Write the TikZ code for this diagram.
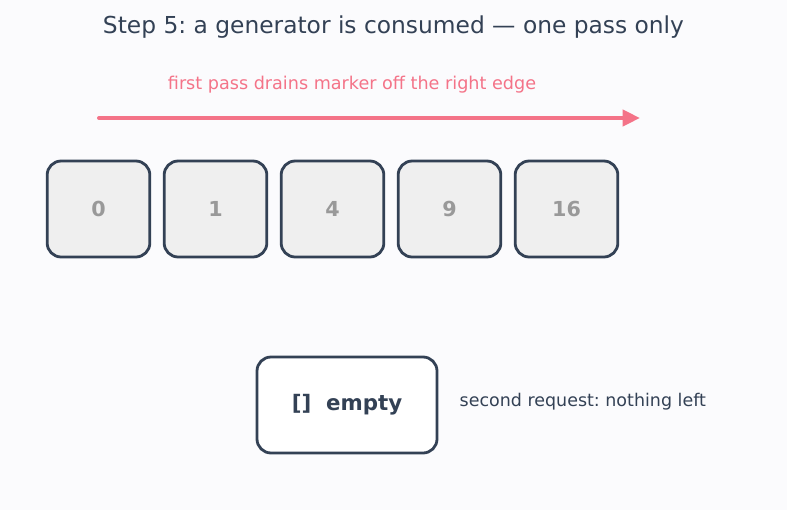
\documentclass[tikz,border=0pt]{standalone}
\usepackage{fontspec}
\setmainfont{DejaVu Sans}
\usepackage{xcolor}
\usetikzlibrary{positioning}
\usetikzlibrary{arrows.meta}
\definecolor{slate}{HTML}{334155}
\definecolor{pinkred}{HTML}{F47388}
\definecolor{cellgray}{HTML}{EFEFEF}
\definecolor{digitgray}{HTML}{999999}
\definecolor{bgcol}{HTML}{FBFBFD}
\frenchspacing
\tikzset{
  cell/.style={draw=slate, line width=2.1pt, rounded corners=10.5pt, fill=cellgray,
    minimum width=77pt, minimum height=72pt, inner sep=0pt,
    font=\fontsize{15.5}{18}\selectfont\bfseries, text=digitgray},
  emptybox/.style={draw=slate, line width=2.1pt, rounded corners=10.5pt, fill=white,
    minimum width=135pt, minimum height=72pt, inner sep=0pt,
    font=\fontsize{16}{19}\selectfont\bfseries, text=slate}
}

\begin{document}
\begin{tikzpicture}[x=0.75pt, y=-0.75pt]
  \fill[bgcol] (0,0) rectangle (787,510);
  \useasboundingbox (0,0) rectangle (787,510);
  \node[font=\fontsize{17.5}{20}\selectfont, text=slate] (title) at (393.5,27) {Step 5: a generator is consumed — one pass only};
  \node[font=\fontsize{13.2}{15}\selectfont, text=pinkred] (passlabel) at (352,85) {first pass drains marker off the right edge};
  \coordinate (passstart) at (99,118);
  \coordinate (passend) at (640,118);
  \draw[pinkred, line width=3pt, line cap=round, -{Triangle[length=13pt, width=12pt]}] (passstart) -- (passend);
  \foreach \v [count=\i from 0] in {0,1,4,9,16}
    \node[cell] (item\i) at (98.5+117*\i,209) {\v};
  \node[emptybox] (empty) at (347,405) {\raisebox{-1.5pt}{[]\ \ empty}};
  \node[font=\fontsize{13.1}{15}\selectfont, text=slate, anchor=west] (secondnote) at (455,402) {second request: nothing left};
\end{tikzpicture}
\end{document}
